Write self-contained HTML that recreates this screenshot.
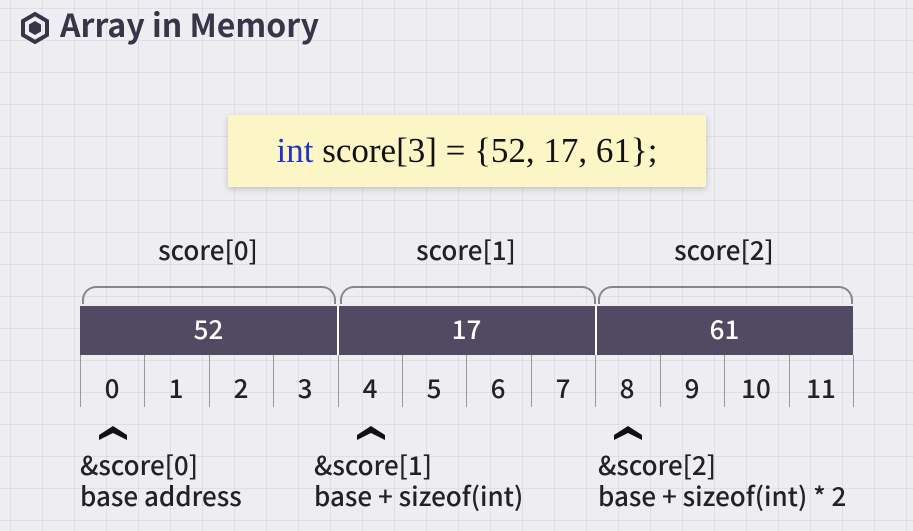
<!DOCTYPE html>
<html><head><style>
body{margin:0;width:913px;height:531px;overflow:hidden;background:#eeeef2;font-family:"Noto Sans CJK KR","Liberation Sans",sans-serif;position:relative;
background-image:linear-gradient(90deg,rgba(180,180,195,.25) 1px,transparent 1px),linear-gradient(rgba(180,180,195,.25) 1px,transparent 1px);background-size:32px 32px;background-position:10px 8px;}
.a{position:absolute;color:#222;line-height:1.2;font-weight:500}
.t{font-size:32px;font-weight:bold;color:#3a3448;left:60px;top:5px}
.code{left:228px;top:115px;width:478px;height:72px;background:#fcf6c6;box-shadow:0 2px 6px rgba(0,0,0,.2);font-family:"Liberation Serif",serif;font-size:35px;text-align:center;line-height:72px;color:#111;font-weight:normal}
.lab{font-size:26px;width:220px;text-align:center;top:234px}
.bar{left:80px;top:306px;width:773px;height:49px;background:#524a63}
.v{color:#fff;font-size:26px;width:257px;text-align:center;top:313px}
.n{font-size:26px;width:64px;text-align:center;top:372px}
.d{width:1px;background:#999;top:355px;height:52px}
.br{height:16px;border:2px solid #888;border-bottom:none;border-radius:14px 14px 0 0;top:286px}
.b{font-size:26px;line-height:31px;top:449px}
</style></head><body>
<svg class="a" style="left:20px;top:12px" width="30" height="32" viewBox="0 0 30 32"><polygon points="15,2 27,9 27,23 15,30 3,23 3,9" fill="none" stroke="#3a3448" stroke-width="4"/><polygon points="15,9 21,12.5 21,19.5 15,23 9,19.5 9,12.5" fill="#3a3448"/></svg>
<div class="a t">Array in Memory</div>
<div class="a code"><span style="color:#1f35c8">int</span> score[3] = {52, 17, 61};</div>
<div class="a lab" style="left:98px">score[0]</div>
<div class="a lab" style="left:356px">score[1]</div>
<div class="a lab" style="left:614px">score[2]</div>
<div class="a br" style="left:82px;width:250px"></div>
<div class="a br" style="left:340px;width:252px"></div>
<div class="a br" style="left:598px;width:251px"></div>
<div class="a bar"></div>
<div class="a" style="left:337px;top:306px;width:2px;height:49px;background:#fff"></div>
<div class="a" style="left:595px;top:306px;width:2px;height:49px;background:#fff"></div>
<div class="a v" style="left:80px">52</div>
<div class="a v" style="left:338px">17</div>
<div class="a v" style="left:596px">61</div>
<div class="a d" style="left:80px"></div><div class="a d" style="left:144px"></div><div class="a d" style="left:209px"></div><div class="a d" style="left:273px"></div><div class="a d" style="left:338px"></div><div class="a d" style="left:402px"></div><div class="a d" style="left:466px"></div><div class="a d" style="left:531px"></div><div class="a d" style="left:595px"></div><div class="a d" style="left:660px"></div><div class="a d" style="left:724px"></div><div class="a d" style="left:789px"></div><div class="a d" style="left:853px"></div>
<div class="a n" style="left:80px">0</div><div class="a n" style="left:144px">1</div><div class="a n" style="left:209px">2</div><div class="a n" style="left:273px">3</div><div class="a n" style="left:338px">4</div><div class="a n" style="left:402px">5</div><div class="a n" style="left:466px">6</div><div class="a n" style="left:531px">7</div><div class="a n" style="left:595px">8</div><div class="a n" style="left:660px">9</div><div class="a n" style="left:724px">10</div><div class="a n" style="left:789px">11</div>
<svg class="a" style="left:99px;top:424px" width="28" height="16"><polygon points="0,11 14,2 28,11 28,16 14,9 0,16" fill="#111"/></svg>
<svg class="a" style="left:357px;top:424px" width="28" height="16"><polygon points="0,11 14,2 28,11 28,16 14,9 0,16" fill="#111"/></svg>
<svg class="a" style="left:614px;top:424px" width="28" height="16"><polygon points="0,11 14,2 28,11 28,16 14,9 0,16" fill="#111"/></svg>
<div class="a b" style="left:80px">&amp;score[0]<br>base address</div>
<div class="a b" style="left:314px">&amp;score[1]<br>base + sizeof(int)</div>
<div class="a b" style="left:598px">&amp;score[2]<br>base + sizeof(int) * 2</div>
</body></html>
